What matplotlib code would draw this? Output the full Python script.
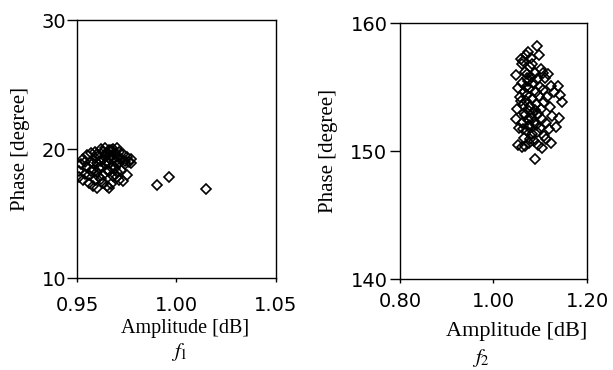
import matplotlib
matplotlib.use("Agg")
import matplotlib.pyplot as plt

plt.rcParams['mathtext.fontset'] = 'stix'

# f1 : amplitude [dB], phase [degree]
amp1 = [0.951, 0.951, 0.952, 0.953, 0.953, 0.954, 0.955, 0.955, 0.956, 0.956,
        0.957, 0.957, 0.958, 0.958, 0.959, 0.959, 0.959, 0.960, 0.960, 0.960,
        0.961, 0.961, 0.962, 0.962, 0.962, 0.963, 0.963, 0.963, 0.964, 0.964,
        0.964, 0.965, 0.965, 0.965, 0.966, 0.966, 0.966, 0.966, 0.967, 0.967,
        0.967, 0.968, 0.968, 0.968, 0.969, 0.969, 0.969, 0.970, 0.970, 0.970,
        0.971, 0.971, 0.971, 0.972, 0.972, 0.973, 0.973, 0.974, 0.974, 0.975,
        0.975, 0.976, 0.977, 0.977, 0.958, 0.961, 0.963, 0.965, 0.967, 0.969,
        0.957, 0.954, 0.960, 0.962, 0.968, 0.970, 0.966,
        0.990, 0.996, 1.015]
phase1 = [17.8, 18.3, 18.8, 17.6, 19.2, 18.1, 18.6, 19.5, 17.4, 18.0,
          19.0, 19.7, 17.1, 18.4, 17.6, 19.3, 19.8, 17.0, 18.2, 18.9,
          19.5, 17.8, 20.0, 18.6, 19.1, 17.4, 19.8, 18.0, 19.4, 20.1,
          18.8, 17.1, 19.0, 19.7, 17.0, 18.3, 19.9, 18.9, 17.3, 19.5,
          18.6, 20.0, 19.2, 17.9, 18.5, 19.7, 19.0, 20.1, 18.2, 19.4,
          17.6, 19.8, 18.9, 19.2, 18.4, 17.5, 19.6, 18.8, 19.1, 19.4,
          18.0, 19.0, 18.9, 19.2, 18.9, 18.5, 19.2, 18.4, 19.9, 18.0,
          18.3, 19.0, 19.6, 17.7, 18.7, 17.8, 19.3,
          17.2, 17.8, 16.9]

# f2 : amplitude [dB], phase [degree]
amp2 = [1.048, 1.052, 1.050, 1.049, 1.053, 1.055, 1.056, 1.058, 1.060, 1.060,
        1.062, 1.062, 1.064, 1.064, 1.065, 1.066, 1.067, 1.068, 1.068, 1.069,
        1.070, 1.070, 1.071, 1.072, 1.072, 1.073, 1.074, 1.074, 1.075, 1.075,
        1.076, 1.077, 1.078, 1.078, 1.079, 1.080, 1.080, 1.081, 1.082, 1.083,
        1.084, 1.085, 1.086, 1.087, 1.088, 1.089, 1.090, 1.090, 1.091, 1.092,
        1.093, 1.094, 1.095, 1.096, 1.097, 1.098, 1.099, 1.100, 1.101, 1.102,
        1.103, 1.104, 1.105, 1.106, 1.108, 1.109, 1.110, 1.112, 1.113, 1.114,
        1.116, 1.118, 1.120, 1.122, 1.124, 1.126, 1.130, 1.133, 1.138, 1.140,
        1.147, 1.142, 1.066, 1.071, 1.077, 1.083, 1.088, 1.058, 1.063]
phase2 = [155.9, 154.9, 153.3, 152.5, 150.5, 151.8, 154.2, 157.2, 156.8, 150.3,
          152.2, 155.3, 153.6, 157.0, 151.0, 154.6, 156.2, 152.8, 150.4, 155.0,
          157.5, 153.9, 151.6, 156.0, 154.4, 152.4, 157.7, 155.5, 153.1, 150.6,
          154.9, 151.9, 156.6, 153.5, 150.9, 155.8, 152.6, 157.3, 154.1, 151.3,
          153.0, 155.3, 152.3, 150.8, 156.1, 149.4, 154.6, 152.0, 153.7, 151.5,
          158.2, 155.6, 152.9, 150.5, 154.3, 157.5, 151.8, 155.0, 153.3, 156.4,
          150.2, 152.5, 154.8, 156.1, 151.2, 153.8, 155.7, 152.2, 150.9, 154.2,
          156.0, 151.7, 153.4, 155.1, 150.6, 152.7, 154.6, 151.9, 155.1, 152.6,
          153.8, 154.4, 153.0, 155.7, 152.0, 156.8, 153.2, 153.9, 151.7]

panels = [
    dict(x=amp1, y=phase1, xlim=(0.95, 1.05), ylim=(10, 30),
         xticks=[0.95, 1.00, 1.05], yticks=[10, 20, 30],
         rect=[0.1256, 0.2486, 0.3246, 0.6973], xpad=10, ypad=0.5,
         xlab=(0.543, -0.159), xlabsize=14.5, ylab=-0.236,
         cap='$f_1$', capxy=(0.292, 0.048)),
    dict(x=amp2, y=phase2, xlim=(0.80, 1.20), ylim=(140, 160),
         xticks=[0.80, 1.00, 1.20], yticks=[140, 150, 160],
         rect=[0.6525, 0.2459, 0.3051, 0.6919], xpad=6, ypad=2,
         xlab=(0.624, -0.168), xlabsize=16, ylab=-0.332,
         cap='$f_2$', capxy=(0.784, 0.033)),
]

fig = plt.figure(figsize=(6.13, 3.70), dpi=100)

for p in panels:
    ax = fig.add_axes(p['rect'])
    ax.plot(p['x'], p['y'], linestyle='none', marker='D', markersize=4.8,
            markerfacecolor='none', markeredgecolor='black', markeredgewidth=1.2)
    ax.set_xlim(*p['xlim'])
    ax.set_ylim(*p['ylim'])
    ax.set_xticks(p['xticks'])
    ax.set_yticks(p['yticks'])
    ax.set_xticklabels(['%.2f' % v for v in p['xticks']])
    ax.tick_params(axis='x', direction='out', length=3, width=1, pad=p['xpad'],
                   labelsize=14)
    ax.tick_params(axis='y', direction='out', length=7, width=1, pad=p['ypad'],
                   labelsize=14)
    for s in ax.spines.values():
        s.set_linewidth(1.0)
    ax.set_xlabel('Amplitude [dB]', family='Liberation Serif', fontsize=p['xlabsize'])
    ax.xaxis.set_label_coords(*p['xlab'])
    ax.set_ylabel('Phase [degree]', family='Liberation Serif', fontsize=15)
    ax.yaxis.set_label_coords(p['ylab'], 0.5)
    fig.text(p['capxy'][0], p['capxy'][1], p['cap'], fontsize=15,
             ha='center', va='center')

fig.savefig('out.png', dpi=100)
